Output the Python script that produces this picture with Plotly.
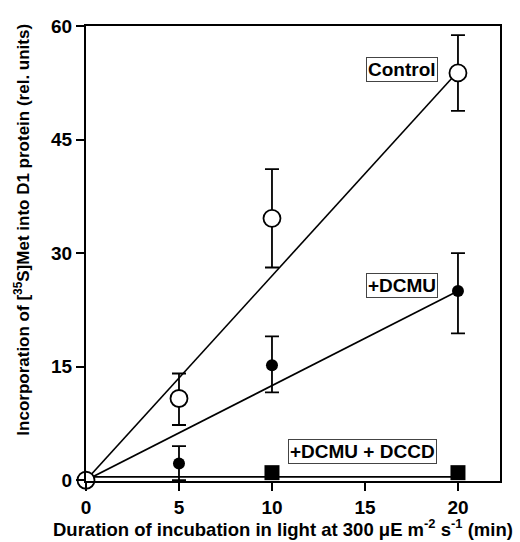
import plotly.graph_objects as go

# Data
time_control = [0, 5, 10, 20]
control = [0, 10.8, 34.6, 53.8]
control_err_plus = [0, 3.3, 6.5, 5.0]
control_err_minus = [0, 3.5, 6.5, 5.0]

time_dcmu = [0, 5, 10, 20]
dcmu = [0, 2.2, 15.2, 25.0]
dcmu_err_plus = [0, 2.3, 3.8, 5.0]
dcmu_err_minus = [0, 2.2, 3.6, 5.6]

time_dccd = [10, 20]
dccd = [1.0, 1.0]

fit_x = [0, 20]
fit_control = [0, 54.0]
fit_dcmu = [0, 25.0]
fit_dccd = [0.45, 0.45]

x_ticks = [0, 5, 10, 15, 20]
y_ticks = [0, 15, 30, 45, 60]

FONT = "Liberation Sans, Arial, Helvetica, sans-serif"

fig = go.Figure()

# fit lines
for fy in (fit_control, fit_dcmu, fit_dccd):
    fig.add_trace(go.Scatter(x=fit_x, y=fy, mode="lines",
                             line=dict(color="black", width=1.6),
                             hoverinfo="skip", showlegend=False, cliponaxis=False))

fig.add_trace(go.Scatter(
    x=time_dccd, y=dccd, mode="markers",
    marker=dict(symbol="square", size=15, color="black"),
    showlegend=False, cliponaxis=False))

fig.add_trace(go.Scatter(
    x=time_dcmu, y=dcmu, mode="markers",
    marker=dict(symbol="circle", size=12, color="black"),
    error_y=dict(type="data", symmetric=False, array=dcmu_err_plus,
                 arrayminus=dcmu_err_minus, color="black", thickness=1.8, width=7),
    showlegend=False, cliponaxis=False))

fig.add_trace(go.Scatter(
    x=time_control, y=control, mode="markers",
    marker=dict(symbol="circle", size=17, color="white",
                line=dict(color="black", width=1.8)),
    error_y=dict(type="data", symmetric=False, array=control_err_plus,
                 arrayminus=control_err_minus, color="black", thickness=1.8, width=7),
    showlegend=False, cliponaxis=False))

ann_font = dict(family=FONT, size=19, color="black")
fig.add_annotation(x=18.9, y=54.2, text="<b>Control</b>", showarrow=False,
                   xanchor="right", yanchor="middle", font=ann_font,
                   bordercolor="#444", borderwidth=1, borderpad=1, bgcolor="white")
fig.add_annotation(x=18.9, y=25.7, text="<b>+DCMU</b>", showarrow=False,
                   xanchor="right", yanchor="middle", font=ann_font,
                   bordercolor="#444", borderwidth=1, borderpad=1, bgcolor="white")
fig.add_annotation(x=14.87, y=3.8, text="<b>+DCMU + DCCD</b>", showarrow=False,
                   xanchor="center", yanchor="middle", font=ann_font,
                   bordercolor="#444", borderwidth=1, borderpad=1, bgcolor="white")

# Axis titles
fig.add_annotation(xref="paper", yref="paper", x=-0.155, y=0.552,
                   text="<b>Incorporation of [<sup>35</sup>S]Met into D1 protein (rel. units)</b>",
                   textangle=-90, showarrow=False, xanchor="center", yanchor="middle",
                   font=dict(family=FONT, size=17, color="black"))
fig.add_annotation(xref="paper", yref="paper", x=0.475, y=-0.104,
                   text="<b>Duration of incubation in light at 300 μE m<sup>-2</sup> s<sup>-1</sup> (min)</b>",
                   showarrow=False, xanchor="center", yanchor="middle",
                   font=dict(family=FONT, size=18.5, color="black"))

axis_common = dict(showgrid=False, zeroline=False, showline=True, linecolor="black",
                   linewidth=2, mirror=True, ticks="outside", ticklen=8, tickwidth=1.5,
                   tickcolor="black",
                   tickfont=dict(family=FONT, size=19, color="black"))

fig.update_xaxes(range=[0, 22.26], tickvals=x_ticks,
                 ticktext=[f"<b>{v}</b>" for v in x_ticks], **axis_common)
fig.update_yaxes(range=[-0.1, 60], tickvals=y_ticks,
                 ticktext=[f"<b>{v}</b>" for v in y_ticks], **axis_common)

fig.update_layout(width=520, height=542, margin=dict(l=86, r=20, t=26, b=61),
                  plot_bgcolor="white", paper_bgcolor="white")

fig.write_html("out.html", config={"displayModeBar": False},
               post_script="document.body.style.margin='0px';document.body.style.overflow='hidden';")
